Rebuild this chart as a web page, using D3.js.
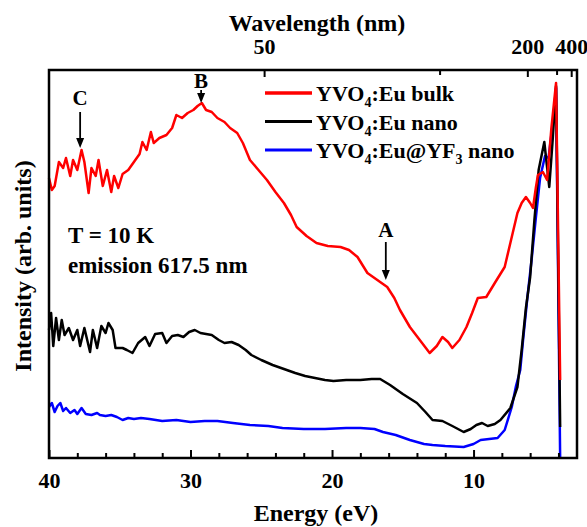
<!DOCTYPE html>
<html>
<head>
<meta charset="utf-8">
<script src="https://cdn.jsdelivr.net/npm/d3@7"></script>
<style>
  body { margin: 0; background: #fff; }
</style>
</head>
<body>
<svg id="chart" width="587" height="527"></svg>
<script>
// energy (eV) and intensity (arb. units)
const bulkE = [40.0,39.8,39.6,39.3,39.0,38.8,38.5,38.3,38.0,37.7,37.5,37.2,37.0,36.7,36.5,36.2,35.9,35.6,35.4,35.1,34.8,34.4,34.0,33.6,33.4,33.1,32.8,32.6,32.2,31.7,31.3,31.0,30.6,30.2,29.8,29.5,29.2,28.9,28.5,28.1,27.6,27.2,26.7,26.3,25.8,25.2,24.6,24.0,23.4,22.9,22.5,21.8,21.1,20.3,19.4,18.8,18.2,17.5,16.8,16.1,15.6,15.2,14.5,13.8,13.1,12.6,12.2,11.8,11.5,11.0,10.5,10.1,9.7,9.1,8.5,7.8,7.4,6.9,6.6,6.3,6.0,5.8,5.6,5.45,5.1,4.8,4.5,4.17,3.88];
const bulkI = [280,268,272,296,290,300,282,298,288,308,296,265,290,282,298,272,288,266,282,270,284,288,296,304,316,308,326,315,320,323,330,343,340,345,348,352,355,348,346,340,336,330,325,315,298,288,278,266,255,243,231,222,215,212,211,208,201,185,178,171,160,148,131,118,105,112,121,116,110,118,131,145,160,161,175,191,215,245,255,261,255,250,270,283,286,278,330,375,78];

const nanoE = [40.0,39.85,39.7,39.5,39.3,39.1,38.9,38.6,38.3,38.0,37.8,37.5,37.1,36.9,36.6,36.3,36.0,35.8,35.5,35.3,34.8,34.5,34.1,33.7,33.2,32.9,32.5,32.0,31.7,31.3,30.9,30.5,30.1,29.7,29.3,28.9,28.5,28.0,27.6,27.1,26.6,26.1,25.7,25.0,24.2,23.4,22.6,21.9,21.2,20.5,19.9,19.0,18.0,17.2,16.6,15.9,15.0,14.0,13.4,12.9,12.2,11.5,10.7,10.2,9.8,9.4,9.0,8.5,8.1,7.4,6.9,6.6,6.3,6.0,5.7,5.4,5.0,4.65,4.4,4.17,3.88];
const nanoI = [128,145,112,140,118,138,123,130,118,128,112,130,106,128,110,132,125,135,128,110,110,108,105,115,121,112,124,125,115,122,123,121,126,128,125,124,123,118,115,116,113,108,103,98,93,89,85,82,80,78,77,78,78,79,79,73,64,55,46,38,37,32,26,29,33,35,32,34,38,50,71,108,150,181,238,288,316,271,320,372,31];

const coreE = [40.0,39.8,39.6,39.4,39.2,39.0,38.8,38.5,38.2,38.0,37.7,37.4,37.0,36.6,36.4,36.0,35.6,35.2,34.8,34.4,34.0,33.5,32.9,32.0,31.0,30.0,29.0,28.1,27.0,25.8,24.5,23.5,22.0,20.5,19.0,18.0,17.0,16.4,15.5,14.5,13.5,12.9,12.0,10.7,10.0,9.5,8.9,8.3,7.8,7.3,7.0,6.7,6.5,6.2,5.9,5.6,5.3,4.95,4.7,4.4,4.17,3.88];
const coreI = [51,55,46,52,55,47,50,45,48,44,50,44,43,45,43,42,43,41,38,40,39,40,39,37,38,36,37,37,35,33,32,30,29,29,30,30,29,26,23,18,14,13,12,11,14,18,19,20,28,51,72,88,118,160,198,240,280,302,300,335,370,0];

const seriesNames = ["YVO4:Eu bulk", "YVO4:Eu nano", "YVO4:Eu@YF3 nano"];
const seriesColors = ["#ff0000", "#000000", "#0000ff"];

const energyTicks = [40, 30, 20, 10];
const energyMinor = [38, 36, 34, 32, 28, 26, 24, 22, 18, 16, 14, 12, 8, 6, 4];
const wavelengthTicks = [50, 100, 200, 300, 400];
const wavelengthLabels = ["50", "", "200", "", "400"];

const marks = [
  {label: "C", e: 37.8, tip: 310, tail: 346, text: 353},
  {label: "B", e: 29.25, tip: 355, tail: 368, text: 370},
  {label: "A", e: 16.2, tip: 178, tail: 216, text: 221}
];

const serif = "'Liberation Serif', 'Times New Roman', 'DejaVu Serif', serif";

const svg = d3.select("#chart");
const plotLeft = 49, plotRight = 577, plotTop = 70, plotBottom = 458;

const x = d3.scaleLinear().domain([40, 2.69]).range([plotLeft, plotRight]);
const y = d3.scaleLinear().domain([0, 388]).range([plotBottom, plotTop]);

// curves, blue underneath, red on top
const line = d3.line().x(d => x(d[0])).y(d => y(d[1]));
const series = [
  d3.zip(bulkE, bulkI),
  d3.zip(nanoE, nanoI),
  d3.zip(coreE, coreI)
];
[2, 1, 0].forEach(function(k) {
  svg.append("path")
    .datum(series[k])
    .attr("d", line)
    .attr("fill", "none")
    .attr("stroke", seriesColors[k])
    .attr("stroke-width", 2.5)
    .attr("stroke-linejoin", "round");
});

// bottom axis
svg.append("g")
  .attr("transform", "translate(0," + plotBottom + ")")
  .call(d3.axisBottom(x).tickValues(energyTicks).tickSizeInner(-8).tickSizeOuter(0).tickPadding(14));
svg.append("g")
  .attr("transform", "translate(0," + plotBottom + ")")
  .call(d3.axisBottom(x).tickValues(energyMinor).tickSizeInner(-5).tickSizeOuter(0).tickFormat(""));

// top axis, wavelength = 1240 / E
const gt = svg.append("g")
  .attr("transform", "translate(0," + plotTop + ")")
  .call(d3.axisTop(x).tickValues(wavelengthTicks.map(l => 1240 / l))
    .tickSizeInner(-7).tickSizeOuter(0).tickPadding(16)
    .tickFormat((d, i) => wavelengthLabels[i]));

svg.selectAll(".domain").remove();
svg.selectAll(".tick line").attr("stroke", "#000").attr("stroke-width", 2);
svg.selectAll(".tick text")
  .attr("fill", "#000")
  .style("font-size", "22px");
gt.selectAll(".tick line").filter((d, i) => wavelengthLabels[i] === "").attr("y2", 5);

// frame
svg.append("rect")
  .attr("x", plotLeft).attr("y", plotTop)
  .attr("width", plotRight - plotLeft).attr("height", plotBottom - plotTop)
  .attr("fill", "none")
  .attr("stroke", "#000")
  .attr("stroke-width", 2.5);

// titles
svg.append("text")
  .text("Energy (eV)")
  .attr("x", (plotLeft + plotRight) / 2 + 3).attr("y", 521)
  .attr("text-anchor", "middle")
  .style("font-size", "24px");
svg.append("text")
  .text("Wavelength (nm)")
  .attr("x", 317).attr("y", 31)
  .attr("text-anchor", "middle")
  .style("font-size", "24px");
svg.append("text")
  .text("Intensity (arb. units)")
  .attr("text-anchor", "middle")
  .attr("transform", "translate(31,266) rotate(-90)")
  .style("font-size", "24px");

// notes
svg.append("text").text("T = 10 K")
  .attr("x", 68).attr("y", 243).style("font-size", "23px");
svg.append("text").text("emission 617.5 nm")
  .attr("x", 68).attr("y", 273).style("font-size", "23px");

// arrows A, B, C
marks.forEach(function(m) {
  const cx = x(m.e);
  svg.append("text").text(m.label)
    .attr("x", cx).attr("y", y(m.text))
    .attr("text-anchor", "middle")
    .style("font-size", "21px");
  svg.append("line")
    .attr("x1", cx).attr("x2", cx)
    .attr("y1", y(m.tail)).attr("y2", y(m.tip) - 8)
    .attr("stroke", "#000").attr("stroke-width", 1.8);
  svg.append("path")
    .attr("d", "M" + (cx - 4) + "," + (y(m.tip) - 10) + " L" + (cx + 4) + "," + (y(m.tip) - 10) + " L" + cx + "," + y(m.tip) + "Z")
    .attr("fill", "#000");
});

// legend
const legend = svg.append("g");
seriesNames.forEach(function(name, i) {
  const ly = 93 + i * 28.5;
  legend.append("line")
    .attr("x1", 265).attr("x2", 312)
    .attr("y1", ly).attr("y2", ly)
    .attr("stroke", seriesColors[i])
    .attr("stroke-width", i === 0 ? 3.5 : 3);
  const t = legend.append("text")
    .attr("x", 316).attr("y", ly + 8)
    .style("font-size", "22px");
  const parts = name.match(/^(YVO)(4)(:Eu@YF)?(3)?(.*)$/);
  t.append("tspan").text("YVO");
  t.append("tspan").text("4").attr("dy", 6).style("font-size", "14px");
  if (parts[3]) {
    t.append("tspan").text(":Eu@YF").attr("dy", -6);
    t.append("tspan").text("3").attr("dy", 6).style("font-size", "14px");
    t.append("tspan").text(parts[5]).attr("dy", -6);
  } else {
    t.append("tspan").text(parts[5]).attr("dy", -6);
  }
});

// every text in the serif face, bold
svg.selectAll("text")
  .style("font-family", serif)
  .style("font-weight", "bold");
</script>
</body>
</html>
